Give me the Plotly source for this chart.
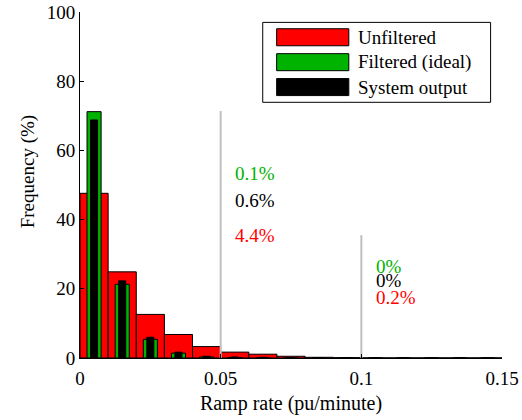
import plotly.graph_objects as go

# Histogram bins of ramp rate (pu/minute), bin width 0.01
bin_centers = [0.005, 0.015, 0.025, 0.035, 0.045, 0.055, 0.065, 0.075,
               0.085, 0.095, 0.105, 0.115, 0.125, 0.135, 0.145]
unfiltered = [47.6, 24.9, 12.6, 6.8, 3.3, 1.7, 1.1, 0.5, 0.2, 0.1,
              0.04, 0.04, 0.04, 0.04, 0.04]
filtered_ideal = [71.2, 21.3, 5.4, 1.4, 0.3, 0.1, 0.0, 0.0, 0.0, 0.0,
                  0.0, 0.0, 0.0, 0.0, 0.0]
system_output = [68.8, 22.3, 6.0, 1.7, 0.5, 0.3, 0.2, 0.1, 0.0, 0.0,
                 0.0, 0.0, 0.0, 0.0, 0.0]

series_names = ["Unfiltered", "Filtered (ideal)", "System output"]
series_colors = ["#ff0000", "#00b300", "#000000"]
bar_widths = [0.01, 0.005, 0.0025]

# Ramp-rate limits and the share of samples exceeding them
limits = [0.05, 0.1]
limit_line_heights = [71.4, 35.5]
exceed_unfiltered = ["4.4%", "0.2%"]
exceed_filtered = ["0.1%", "0%"]
exceed_system = ["0.6%", "0%"]
label_x = [0.0544, 0.1044]
label_y_filtered = [53.3, 26.4]
label_y_system = [45.6, 22.4]
label_y_unfiltered = [35.5, 17.5]

x_ticks = [0, 0.05, 0.1, 0.15]
x_tick_text = ["0", "0.05", "0.1", "0.15"]
y_ticks = [0, 20, 40, 60, 80, 100]

FONT = "Liberation Serif"

fig = go.Figure()
for name, vals, col, w in zip(series_names,
                              [unfiltered, filtered_ideal, system_output],
                              series_colors, bar_widths):
    fig.add_trace(go.Bar(
        x=bin_centers, y=vals, width=w, name=name,
        marker=dict(color=col, line=dict(color="#000000", width=1)),
        showlegend=False,
    ))

# vertical limit lines
for lx, lh in zip(limits, limit_line_heights):
    fig.add_trace(go.Scatter(
        x=[lx, lx], y=[0, lh], mode="lines",
        line=dict(color="#c0c0c0", width=2),
        showlegend=False, hoverinfo="skip",
    ))

# exceedance percentages
for texts, ys, col in [(exceed_filtered, label_y_filtered, series_colors[1]),
                       (exceed_system, label_y_system, series_colors[2]),
                       (exceed_unfiltered, label_y_unfiltered, series_colors[0])]:
    for t, lx, ly in zip(texts, label_x, ys):
        fig.add_annotation(x=lx, y=ly, text=t, showarrow=False,
                           xanchor="left", yanchor="middle",
                           font=dict(family=FONT, size=19, color=col))

# legend box drawn in paper coordinates
legend_box = dict(x0=0.433, x1=0.973, y0=0.739, y1=0.970)
fig.add_shape(type="rect", xref="paper", yref="paper",
              line=dict(color="#000000", width=1), fillcolor="#ffffff",
              **legend_box)
row_y = [0.927, 0.855, 0.783]
for name, col, ry in zip(series_names, series_colors, row_y):
    fig.add_shape(type="rect", xref="paper", yref="paper",
                  x0=0.466, x1=0.637, y0=ry + 0.0246, y1=ry - 0.0246,
                  fillcolor=col, line=dict(color="#000000", width=1))
    fig.add_annotation(xref="paper", yref="paper", x=0.654, y=ry,
                       text=name, showarrow=False, xanchor="left",
                       yanchor="middle",
                       font=dict(family=FONT, size=19, color="#000000"))

# y-axis title
fig.add_annotation(xref="paper", yref="paper", x=-0.123, y=0.537,
                   text="Frequency (%)", textangle=-90, showarrow=False,
                   xanchor="center", yanchor="middle",
                   font=dict(family=FONT, size=19, color="#000000"))

fig.update_layout(
    template="none",
    width=522, height=420,
    margin=dict(l=80, r=20, t=12, b=62),
    paper_bgcolor="#ffffff", plot_bgcolor="#ffffff",
    barmode="overlay",
    font=dict(family=FONT, size=19, color="#000000"),
    xaxis=dict(range=[0, 0.15], tickvals=x_ticks, ticktext=x_tick_text,
               showgrid=False, zeroline=False, showline=True,
               linecolor="#000000", linewidth=1, ticks="inside",
               ticklen=4, tickcolor="#000000", automargin=False,
               ticklabelstandoff=3,
               title=dict(text="Ramp rate (pu/minute)", standoff=8,
                          font=dict(family=FONT, size=20))),
    yaxis=dict(range=[0, 100], tickvals=y_ticks,
               showgrid=False, zeroline=False, showline=True,
               linecolor="#000000", linewidth=1, ticks="inside",
               ticklen=4, tickcolor="#000000", automargin=False),
)

fig.write_html("out.html")
